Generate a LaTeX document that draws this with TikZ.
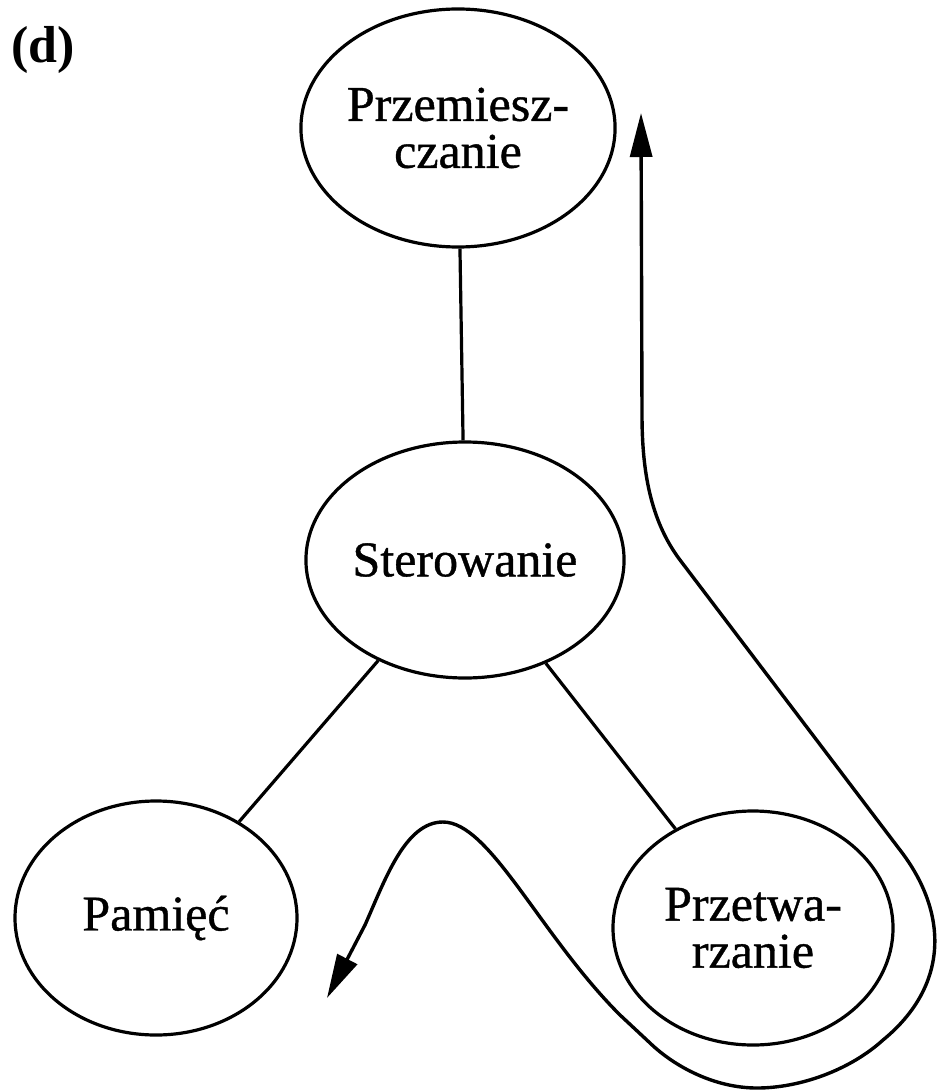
\documentclass[tikz,border=0pt]{standalone}
\usepackage{fontspec}
\setmainfont{Liberation Serif}
\newfontfamily\labelfont{Liberation Serif}[BoldFont={Liberation Serif},BoldFeatures={FakeBold=0.8}]
\usetikzlibrary{shapes.geometric,arrows.meta}
\begin{document}
\begin{tikzpicture}[x=1pt,y=-1pt,
  block/.style={ellipse,draw,line width=3.2pt,inner sep=0pt,align=center,
    font=\labelfont\bfseries\fontsize{50}{47}\selectfont},
  link/.style={line width=3.2pt},
  flow/.style={line width=3.4pt,line join=round,
    {Triangle[length=44pt,width=22pt]}-{Triangle[length=44pt,width=22pt]}}]
\useasboundingbox (0,0) rectangle (936,1091);

% panel label
\node[font=\bfseries\fontsize{52}{60}\selectfont] (label) at (43,50) {(d)};

% the four functional blocks
\node[block,minimum width=272pt,minimum height=238pt] (move) at (458,128) {Przemiesz-\\czanie};
\node[block,minimum width=280pt,minimum height=236pt] (ctrl) at (465,560) {Sterowanie};
\node[block,minimum width=282pt,minimum height=234pt] (mem)  at (156,918) {Pamięć};
\node[block,minimum width=280pt,minimum height=234pt] (proc) at (753,928) {Przetwa-\\rzanie};

% connections from the control block
\draw[link] (move) -- (ctrl);
\draw[link] (ctrl) -- (mem);
\draw[link] (ctrl) -- (proc);

% flow line winding around the processing block
\coordinate (flowtop) at (641,113);
\coordinate (flowend) at (327,998);
\draw[flow] (flowtop) -- (642,415)
  .. controls (642,470) and (650,520) .. (680,560)
  -- (900,850)
  .. controls (948,912) and (950,985) .. (883,1040)
  .. controls (850,1070) and (800,1088) .. (757,1088)
  .. controls (715,1088) and (675,1067) .. (650,1043)
  -- (620,1015)
  .. controls (540,935) and (490,822) .. (443,822)
  .. controls (405,822) and (385,880) .. (365,925)
  -- (flowend);
\end{tikzpicture}
\end{document}
